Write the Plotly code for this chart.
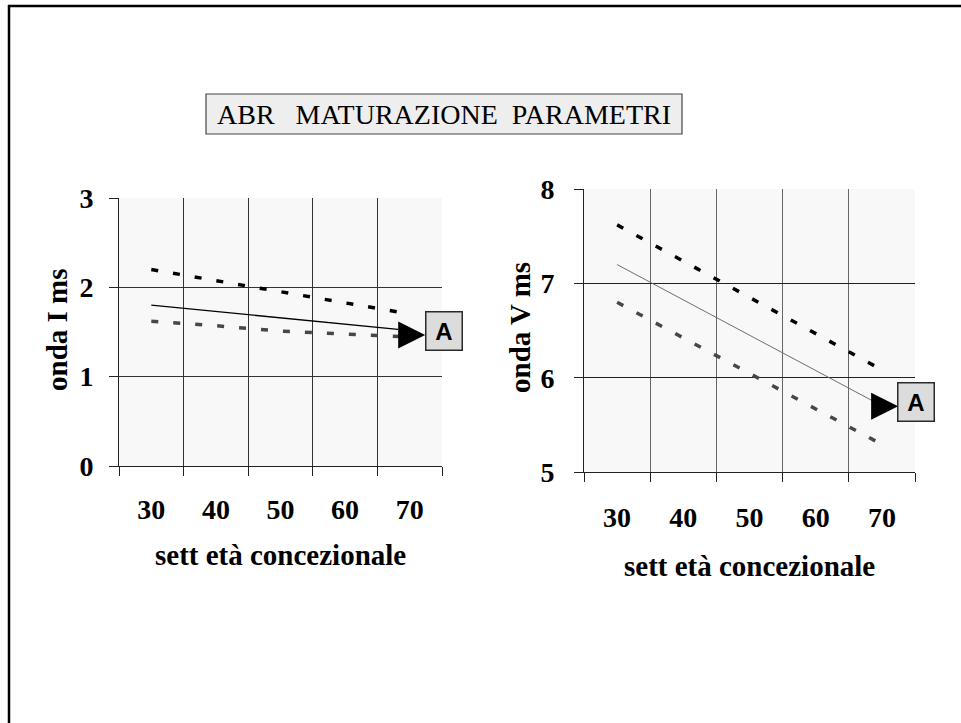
import plotly.graph_objects as go

W, H = 961, 723

# ---- data ----
week_ticks = [30, 40, 50, 60, 70]
week_labels = ["30", "40", "50", "60", "70"]
week_bounds = [25, 35, 45, 55, 65, 75]

ondaI_ticks = [0, 1, 2, 3]
ondaV_ticks = [5, 6, 7, 8]

ondaI_upper_x = [30, 68.5]
ondaI_upper_y = [2.2, 1.72]
ondaI_mean_x = [30, 68.2]
ondaI_mean_y = [1.8, 1.53]
ondaI_lower_x = [30, 40, 50, 60, 68.5]
ondaI_lower_y = [1.62, 1.57, 1.51, 1.48, 1.45]
ondaI_arrow = dict(tail=(68.0, 1.467), tip=(72.4, 1.467))

ondaV_upper_x = [30, 69.6]
ondaV_upper_y = [7.62, 6.10]
ondaV_mean_x = [30, 68.5]
ondaV_mean_y = [7.2, 5.76]
ondaV_lower_x = [30, 69.6]
ondaV_lower_y = [6.8, 5.31]
ondaV_arrow = dict(tail=(68.3, 5.70), tip=(72.45, 5.70))

title_text = "ABR\u00a0\u00a0\u00a0MATURAZIONE\u00a0\u00a0PARAMETRI"
xtitle = "sett età concezionale"
ytitle_I = "onda I ms"
ytitle_V = "onda V ms"
label_text = "A"

SERIF = "Liberation Serif"
SANS = "Liberation Sans"

fig = go.Figure()

def add_lines(xa, ya, ux, uy, mx, my, lx, ly, mean_color, mean_width):
    fig.add_trace(go.Scatter(x=ux, y=uy, mode="lines", xaxis=xa, yaxis=ya,
                             line=dict(color="#000000", width=3.5, dash="7px,15px"),
                             hoverinfo="skip"))
    fig.add_trace(go.Scatter(x=lx, y=ly, mode="lines", xaxis=xa, yaxis=ya,
                             line=dict(color="#474747", width=3.5, dash="7px,15px"),
                             hoverinfo="skip"))
    fig.add_trace(go.Scatter(x=mx, y=my, mode="lines", xaxis=xa, yaxis=ya,
                             line=dict(color=mean_color, width=mean_width),
                             hoverinfo="skip"))

add_lines("x", "y", ondaI_upper_x, ondaI_upper_y, ondaI_mean_x, ondaI_mean_y,
          ondaI_lower_x, ondaI_lower_y, "#000000", 1.3)
add_lines("x2", "y2", ondaV_upper_x, ondaV_upper_y, ondaV_mean_x, ondaV_mean_y,
          ondaV_lower_x, ondaV_lower_y, "#6e6e6e", 1.0)

tickfont = dict(family=SERIF, size=28, color="black", weight="bold")

def xaxis_cfg(domain, gridcolor, standoff, anchor):
    return dict(domain=domain, range=[25, 75], tickmode="array",
                tickvals=week_ticks, ticktext=week_labels, ticks="",
                showgrid=False, zeroline=False, showline=True, automargin=False,
                linecolor="#222", linewidth=1, tickfont=tickfont,
                ticklabelstandoff=standoff, anchor=anchor,
                minor=dict(tickmode="array", tickvals=week_bounds, ticks="outside",
                           ticklen=9, tickcolor="#222", tickwidth=1,
                           showgrid=True, gridcolor=gridcolor, gridwidth=1),
                fixedrange=True)

def yaxis_cfg(domain, rng, tv, gridcolor, standoff, anchor):
    return dict(domain=domain, range=rng, tickmode="array", tickvals=tv,
                ticks="outside", ticklen=9, tickcolor="#222", tickwidth=1,
                showgrid=True, gridcolor=gridcolor, gridwidth=1, zeroline=False,
                showline=True, linecolor="#222", linewidth=1, tickfont=tickfont,
                automargin=False,
                ticklabelstandoff=standoff, anchor=anchor, fixedrange=True)

px = lambda v: v / W
py = lambda v: 1 - v / H

fig.update_layout(
    width=W, height=H,
    margin=dict(l=0, r=0, t=0, b=0, pad=0, autoexpand=False),
    paper_bgcolor="white", plot_bgcolor="#f8f8f8", showlegend=False,
    xaxis=xaxis_cfg([px(119), px(442)], "#333", 18, "y"),
    yaxis=yaxis_cfg([py(466), py(198)], [0, 3], ondaI_ticks, "#333", 10, "x"),
    xaxis2=xaxis_cfg([px(584), px(915)], "#666", 20, "y2"),
    yaxis2=yaxis_cfg([py(472.3), py(189)], [5, 8], ondaV_ticks, "#222", 14, "x2"),
)

shapes = []
# outer slide frame (top and left edges)
shapes.append(dict(type="line", xref="paper", yref="paper", x0=px(8), x1=1,
                   y0=py(6), y1=py(6), line=dict(color="black", width=2.5)))
shapes.append(dict(type="line", xref="paper", yref="paper", x0=px(9), x1=px(9),
                   y0=py(5), y1=0, line=dict(color="black", width=2.5)))
# title box
shapes.append(dict(type="rect", xref="paper", yref="paper", x0=px(206), x1=px(682),
                   y0=py(134), y1=py(94), fillcolor="#eeeeee",
                   line=dict(color="#444", width=1.2)))
fig.update_layout(shapes=shapes)

ann = []
ann.append(dict(xref="paper", yref="paper", x=px(444), y=py(114), text=title_text,
                showarrow=False, font=dict(family=SERIF, size=28, color="black"),
                xanchor="center", yanchor="middle"))
# axis titles
tfont = dict(family=SERIF, size=29, color="black", weight="bold")
ann.append(dict(xref="paper", yref="paper", x=px(57), y=py(330), text=ytitle_I,
                textangle=-90, showarrow=False, font=tfont,
                xanchor="center", yanchor="middle"))
ann.append(dict(xref="paper", yref="paper", x=px(520), y=py(328), text=ytitle_V,
                textangle=-90, showarrow=False, font=tfont,
                xanchor="center", yanchor="middle"))
ann.append(dict(xref="paper", yref="paper", x=px(280.5), y=py(555), text=xtitle,
                showarrow=False, font=tfont, xanchor="center", yanchor="middle"))
ann.append(dict(xref="paper", yref="paper", x=px(749.5), y=py(566), text=xtitle,
                showarrow=False, font=tfont, xanchor="center", yanchor="middle"))

# arrows
for xr, yr, arr in (("x", "y", ondaI_arrow), ("x2", "y2", ondaV_arrow)):
    ann.append(dict(xref=xr, yref=yr, x=arr["tip"][0], y=arr["tip"][1],
                    axref=xr, ayref=yr, ax=arr["tail"][0], ay=arr["tail"][1],
                    text="", showarrow=True, arrowhead=2, arrowsize=3.6,
                    arrowwidth=1.5, arrowcolor="black", standoff=0, startstandoff=0))
# "A" label boxes
for cx, cy in ((444, 331), (916.3, 402.2)):
    ann.append(dict(xref="paper", yref="paper", x=px(cx), y=py(cy),
                    text="<b>" + label_text + "</b>",
                    showarrow=False, font=dict(family=SANS, size=24, color="black"),
                    bgcolor="#dcdcdc", bordercolor="#2a2a2a", borderwidth=1.5,
                    borderpad=0, width=35, height=37, xanchor="center", yanchor="middle"))
fig.update_layout(annotations=ann)

fig.write_html("out.html",
               config={"displayModeBar": False},
               post_script="document.body.style.margin='0px';"
                           "document.body.style.overflow='hidden';")
